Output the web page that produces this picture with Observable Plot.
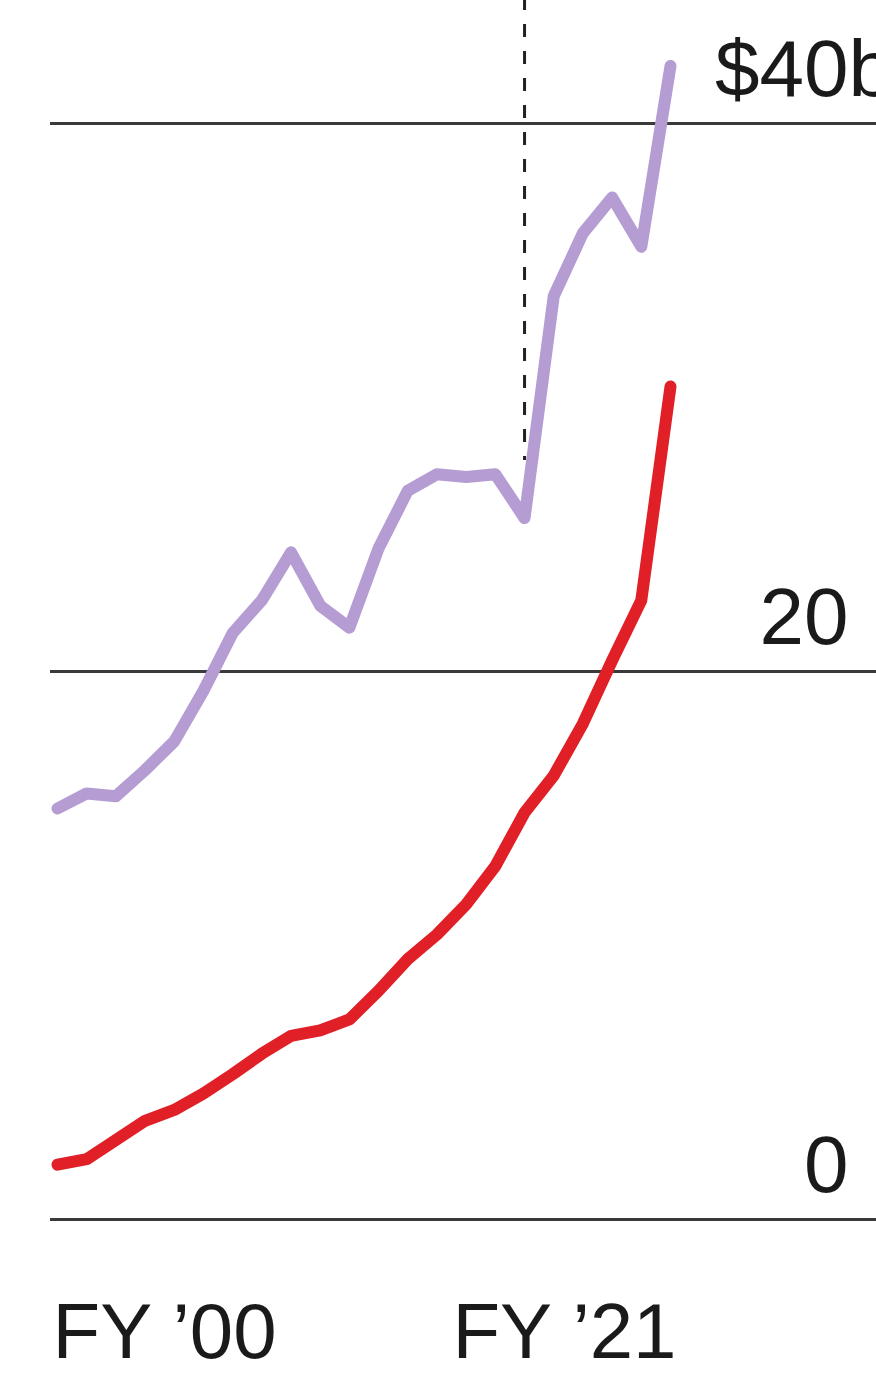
<!DOCTYPE html>
<html>
<head>
<meta charset="utf-8">
<script src="https://cdn.jsdelivr.net/npm/d3@7"></script>
<script src="https://cdn.jsdelivr.net/npm/@observablehq/plot@0.6"></script>
<style>
  html, body { margin: 0; padding: 0; background: #fff; }
  #chart svg { display: block; overflow: visible; }
</style>
</head>
<body>
<div id="chart"></div>
<script>
// ---- data ----
const years = [2000, 2001, 2002, 2003, 2004, 2005, 2006, 2007, 2008, 2009, 2010,
               2011, 2012, 2013, 2014, 2015, 2016, 2017, 2018, 2019, 2020, 2021];
const purpleValues = [15.0, 15.55, 15.45, 16.4, 17.45, 19.3, 21.4, 22.6, 24.35, 22.4, 21.6,
                      24.5, 26.6, 27.2, 27.1, 27.2, 25.6, 33.7, 36.0, 37.3, 35.5, 42.1];
const redValues = [2.0, 2.2, 2.9, 3.6, 4.0, 4.6, 5.3, 6.05, 6.7, 6.9, 7.3,
                   8.35, 9.5, 10.4, 11.5, 12.9, 14.85, 16.2, 18.1, 20.4, 22.6, 30.4];
const yTicks = [0, 20, 40];
const yTickLabels = ["0", "20", "$40"];
const unitSuffix = "b";
const xTickYears = [2000, 2021];
const xTickLabels = ["FY \u201900", "FY \u201921"];
const markerYear = 2016;

// ---- build tables ----
const purpleRows = years.map((yr, i) => ({year: yr, value: purpleValues[i]}));
const redRows = years.map((yr, i) => ({year: yr, value: redValues[i]}));
const tickRows = yTicks.map((v, i) => ({value: v, label: yTickLabels[i]}));
const xRows = xTickYears.map((yr, i) => ({year: yr, label: xTickLabels[i]}));
const markerValue = purpleValues[years.indexOf(markerYear)];

const font = "'Liberation Sans', Arial, Helvetica, sans-serif";

const chart = Plot.plot({
  width: 876,
  height: 1373,
  marginLeft: 57,
  marginRight: 206,
  marginTop: 123,
  marginBottom: 154,
  style: {fontFamily: font, background: "#fff", overflow: "visible"},
  x: {domain: [2000, 2021], axis: null},
  y: {domain: [0, 40], axis: null},
  marks: [
    Plot.ruleY(yTicks, {stroke: "#3a3a3a", strokeWidth: 3, insetLeft: -7, insetRight: -206}),
    Plot.ruleX([markerYear], {y1: 44.6, y2: markerValue + 2.1, stroke: "#222", strokeWidth: 3, strokeDasharray: "13,14"}),
    Plot.line(purpleRows, {x: "year", y: "value", stroke: "#b59cd2", strokeWidth: 12, strokeLinejoin: "round", strokeLinecap: "round"}),
    Plot.line(redRows, {x: "year", y: "value", stroke: "#e01f27", strokeWidth: 12, strokeLinejoin: "round", strokeLinecap: "round"}),
    Plot.text(tickRows, {y: "value", text: "label", frameAnchor: "right", dx: 178, dy: -28,
      textAnchor: "end", lineAnchor: "bottom", fontSize: 80, fill: "#1a1a1a"}),
    Plot.text([tickRows[tickRows.length - 1]], {y: "value", text: () => unitSuffix, frameAnchor: "right", dx: 178, dy: -28,
      textAnchor: "start", lineAnchor: "bottom", fontSize: 80, fill: "#1a1a1a"}),
    Plot.text([xRows[0]], {x: "year", text: "label", frameAnchor: "bottom", dx: -5, dy: 138,
      textAnchor: "start", lineAnchor: "bottom", fontSize: 78, fill: "#1a1a1a"}),
    Plot.text([xRows[xRows.length - 1]], {x: "year", text: "label", frameAnchor: "bottom", dx: 6, dy: 138,
      textAnchor: "end", lineAnchor: "bottom", fontSize: 78, fill: "#1a1a1a"})
  ]
});
document.getElementById("chart").appendChild(chart);
</script>
</body>
</html>
